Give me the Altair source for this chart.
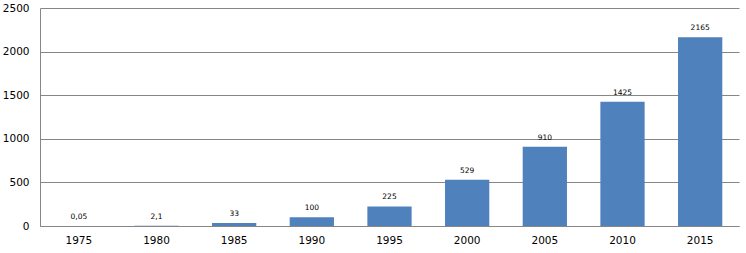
import altair as alt
import pandas as pd

years = ["1975", "1980", "1985", "1990", "1995", "2000", "2005", "2010", "2015"]
values = [0.05, 2.1, 33, 100, 225, 529, 910, 1425, 2165]
labels = ["0,05", "2,1", "33", "100", "225", "529", "910", "1425", "2165"]

df = pd.DataFrame({"year": years, "value": values, "label": labels})

x = alt.X("year:N", sort=years, title=None,
          scale=alt.Scale(paddingInner=0.43, paddingOuter=0.215),
          axis=alt.Axis(labelAngle=0, ticks=False, labelPadding=9, labelFontSize=10.5,
                        labelFont="DejaVu Sans", labelColor="#000000",
                        domainColor="#868686", grid=False))
y = alt.Y("value:Q", title=None,
          scale=alt.Scale(domain=[0, 2500], nice=False),
          axis=alt.Axis(values=[0, 500, 1000, 1500, 2000, 2500], format="d", ticks=False,
                        labelPadding=11, labelFontSize=10.5, labelFont="DejaVu Sans",
                        labelColor="#000000", domainColor="#868686",
                        gridColor="#868686", gridOpacity=1))

bars = alt.Chart(df).mark_bar(color="#4F81BD").encode(x=x, y=y)
text = alt.Chart(df).mark_text(baseline="bottom", dy=-5, fontSize=7.5,
                               font="DejaVu Sans", color="#000000").encode(
    x=alt.X("year:N", sort=years), y="value:Q", text="label:N")

chart = (bars + text).properties(
    width=699, height=218,
    padding={"left": 40, "top": 8, "right": 7, "bottom": 27},
    autosize=alt.AutoSizeParams(type="none"),
    background="white",
).configure_view(stroke=None)

chart.save("out.html", embed_options={"renderer": "svg", "actions": False})
